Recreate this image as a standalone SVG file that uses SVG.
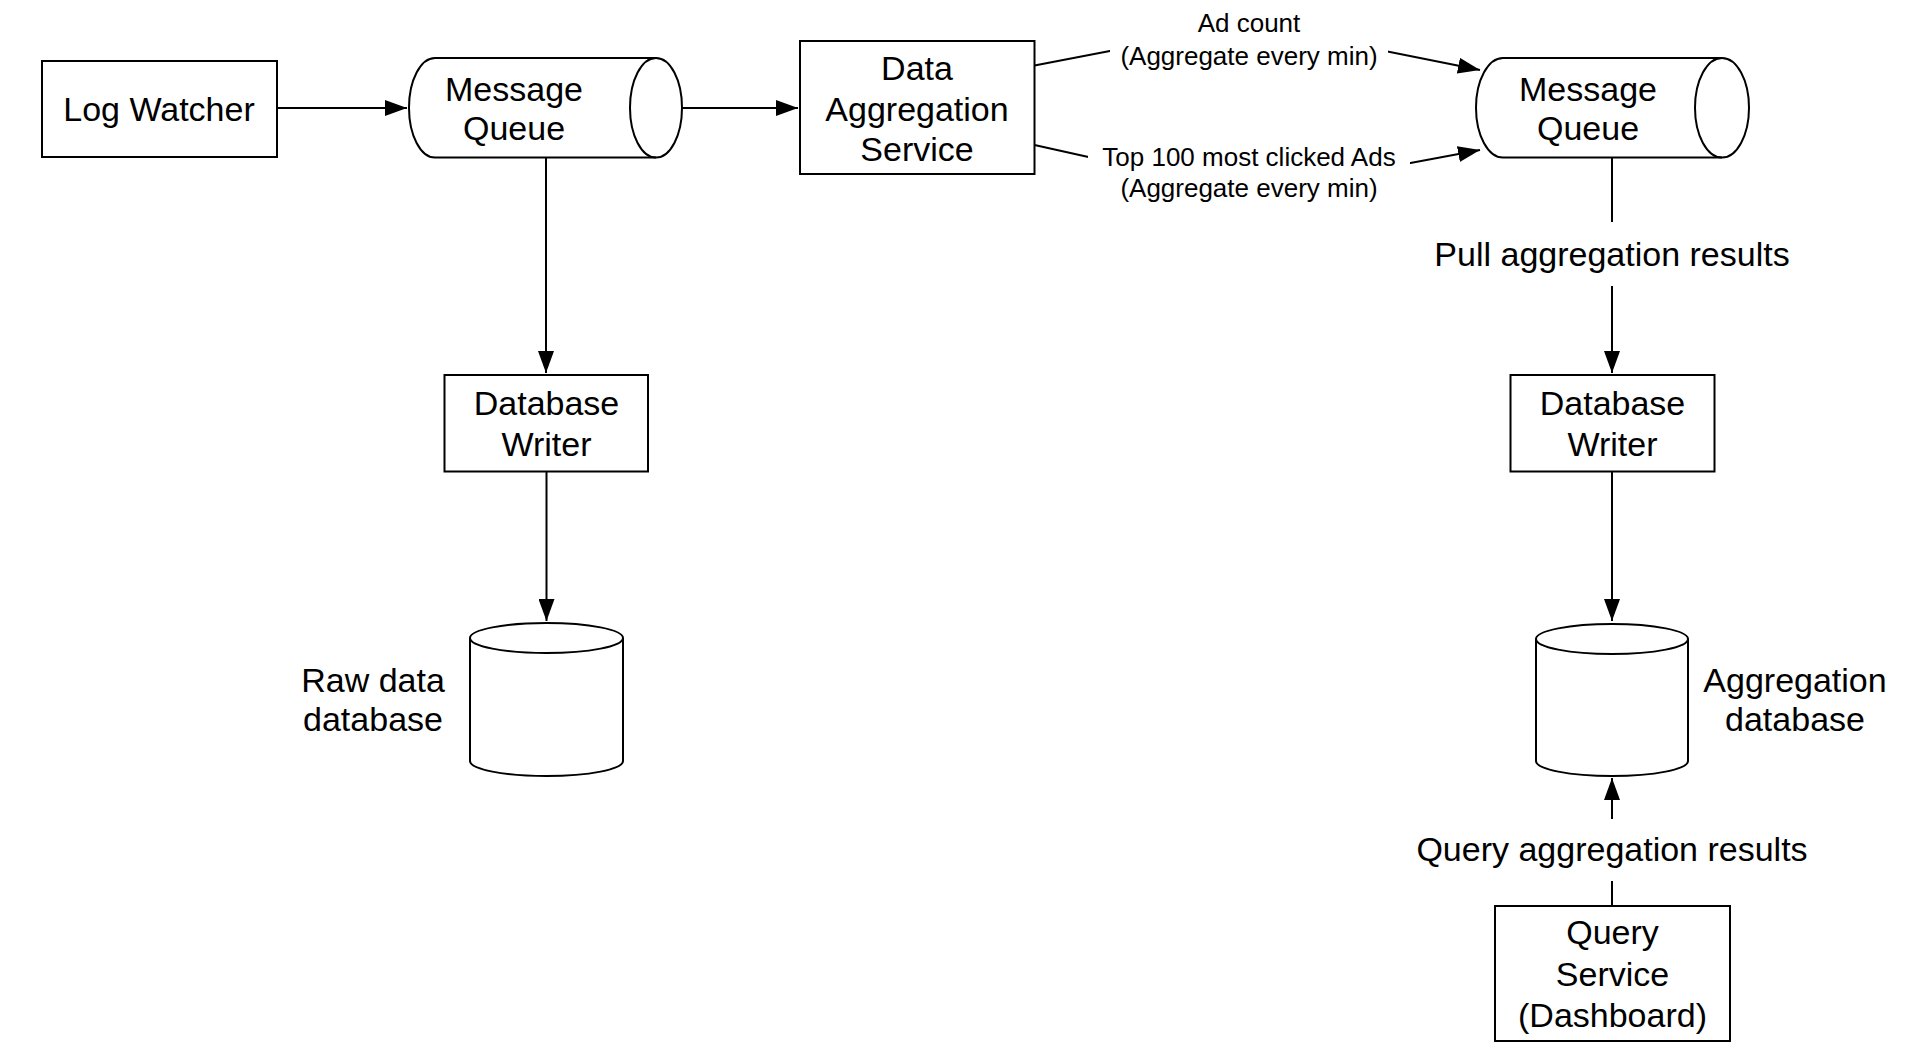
<svg xmlns="http://www.w3.org/2000/svg" width="1920" height="1056" viewBox="0 0 1920 1056">
<defs>
<style>
.shape{fill:#fff;stroke:#000;stroke-width:2}
.line{fill:none;stroke:#000;stroke-width:2}
text{font-family:"Liberation Sans",Arial,Helvetica,sans-serif;fill:#000}
.big{font-size:34px;text-anchor:middle}
.small{font-size:26px;text-anchor:middle}
.bg{fill:#fff;stroke:none}
</style>
<marker id="arr" markerUnits="userSpaceOnUse" markerWidth="22" markerHeight="16" refX="22" refY="8" orient="auto">
<path d="M0,0 L22,8 L0,16 Z" fill="#000"/>
</marker>
</defs>
<rect width="1920" height="1056" fill="#fff"/>

<g id="connectors">
<path class="line" d="M277,108 H407" marker-end="url(#arr)"/>
<path class="line" d="M682,108 H798" marker-end="url(#arr)"/>
<path class="line" d="M546,157.5 V373" marker-end="url(#arr)"/>
<path class="line" d="M546.5,472 V621" marker-end="url(#arr)"/>
<path class="line" d="M1034.5,65.5 L1250,24 L1480,70" marker-end="url(#arr)"/>
<path class="line" d="M1034.5,145 L1250,193 L1480,150" marker-end="url(#arr)"/>
<path class="line" d="M1612,157.5 V373" marker-end="url(#arr)"/>
<path class="line" d="M1612,472 V621" marker-end="url(#arr)"/>
<path class="line" d="M1612,906 V778" marker-end="url(#arr)"/>
<g id="label-adcount">
<rect class="bg" x="1110" y="4" width="278" height="74"/>
<text class="small" x="1249" y="32">Ad count</text>
<text class="small" x="1249" y="65">(Aggregate every min)</text>
</g>
<g id="label-top100">
<rect class="bg" x="1088" y="138" width="322" height="68"/>
<text class="small" x="1249" y="166">Top 100 most clicked Ads</text>
<text class="small" x="1249" y="197">(Aggregate every min)</text>
</g>
<g id="label-pull">
<rect class="bg" x="1420" y="222" width="384" height="64"/>
<text class="big" x="1612" y="266">Pull aggregation results</text>
</g>
<g id="label-query">
<rect class="bg" x="1400" y="819" width="424" height="62"/>
<text class="big" x="1612" y="861">Query aggregation results</text>
</g>
</g>

<g id="log-watcher">
<rect class="shape" x="42" y="61" width="235" height="96"/>
<text class="big" x="159" y="121">Log Watcher</text>
</g>

<g id="message-queue-1">
<path class="shape" d="M435,58 H656 A26,49.75 0 0 1 656,157.5 H435 A26,49.75 0 0 1 435,58 Z"/>
<path class="line" d="M656,58 A26,49.75 0 0 0 656,157.5"/>
<text class="big" x="514" y="101">Message</text>
<text class="big" x="514" y="140">Queue</text>
</g>

<g id="data-aggregation-service">
<rect class="shape" x="800" y="41" width="234.5" height="133"/>
<text class="big" x="917" y="80">Data</text>
<text class="big" x="917" y="120.5">Aggregation</text>
<text class="big" x="917" y="161">Service</text>
</g>

<g id="message-queue-2">
<path class="shape" d="M1503,58 H1722 A27,49.75 0 0 1 1722,157.5 H1503 A27,49.75 0 0 1 1503,58 Z"/>
<path class="line" d="M1722,58 A27,49.75 0 0 0 1722,157.5"/>
<text class="big" x="1588" y="101">Message</text>
<text class="big" x="1588" y="140">Queue</text>
</g>

<g id="database-writer-1">
<rect class="shape" x="444.5" y="375" width="203.5" height="96.5"/>
<text class="big" x="546.5" y="415">Database</text>
<text class="big" x="546.5" y="456">Writer</text>
</g>

<g id="database-writer-2">
<rect class="shape" x="1510.5" y="375" width="204" height="96.5"/>
<text class="big" x="1612.5" y="415">Database</text>
<text class="big" x="1612.5" y="456">Writer</text>
</g>

<g id="raw-data-database">
<path class="shape" d="M470,638 V761 A76.5,15 0 0 0 623,761 V638"/>
<ellipse class="shape" cx="546.5" cy="638" rx="76.5" ry="15"/>
<text class="big" x="373" y="692">Raw data</text>
<text class="big" x="373" y="731">database</text>
</g>

<g id="aggregation-database">
<path class="shape" d="M1536,639 V761 A76,15 0 0 0 1688,761 V639"/>
<ellipse class="shape" cx="1612" cy="639" rx="76" ry="15"/>
<text class="big" x="1795" y="692">Aggregation</text>
<text class="big" x="1795" y="731">database</text>
</g>

<g id="query-service">
<rect class="shape" x="1495" y="906" width="235" height="135"/>
<text class="big" x="1612.5" y="944">Query</text>
<text class="big" x="1612.5" y="986">Service</text>
<text class="big" x="1612.5" y="1027">(Dashboard)</text>
</g>
</svg>
